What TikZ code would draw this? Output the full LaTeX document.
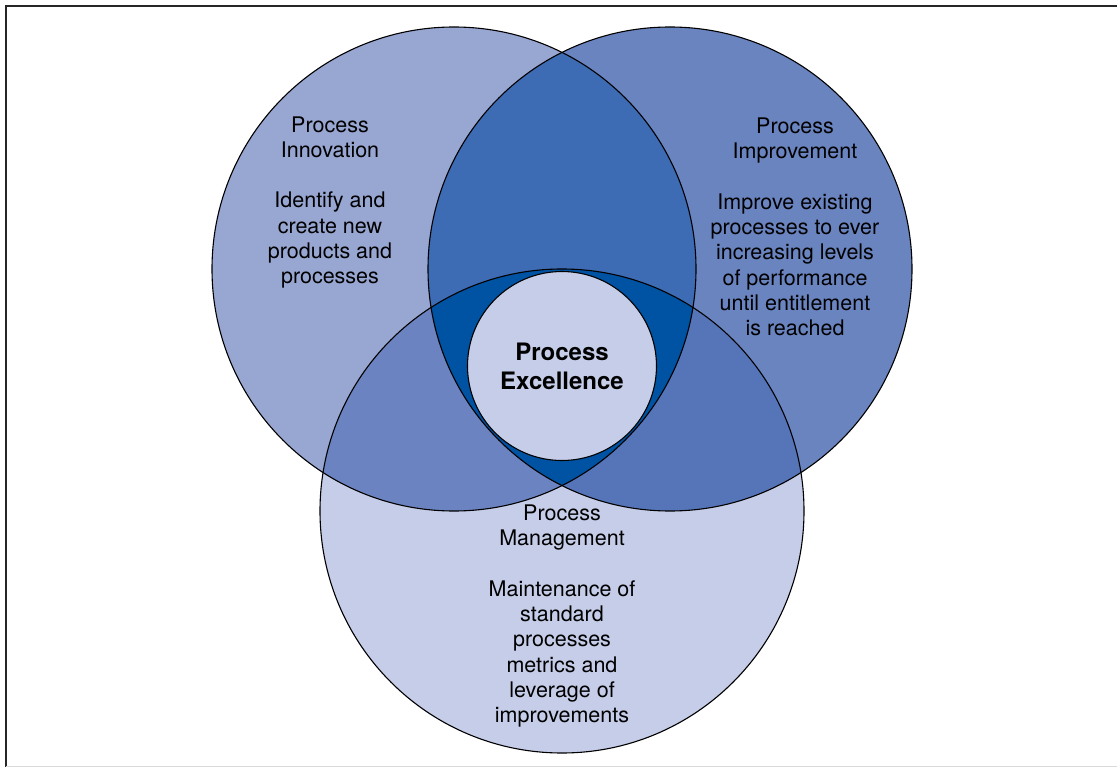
\documentclass[tikz,border=0pt]{standalone}
\usepackage{fontspec}
\setmainfont{TeX Gyre Heros}
\definecolor{innov}{HTML}{98A6D2}
\definecolor{improv}{HTML}{6A84C0}
\definecolor{manage}{HTML}{C5CDE8}
\definecolor{innovimprov}{HTML}{3D6BB4}
\definecolor{innovmanage}{HTML}{6B83C0}
\definecolor{improvmanage}{HTML}{5675B9}
\definecolor{allthree}{HTML}{0052A3}

\begin{document}
\begin{tikzpicture}[x=1pt,y=-1pt,
  ring/.style={draw=black,line width=1.1pt},
  venntext/.style={align=center,font=\fontsize{21.5}{25.3}\selectfont}]
\useasboundingbox (0,0) rectangle (1117,767);
\draw[line width=2.2pt,black!85] (6,767) -- (6,6) -- (1117,6);
\draw[line width=1pt,black!15] (6,766.5) -- (1117,766.5);

\coordinate (innovC) at (454,269);
\coordinate (improvC) at (670,269);
\coordinate (manageC) at (562,511);

\fill[innov] (innovC) circle (242pt);
\fill[improv] (improvC) circle (242pt);
\fill[manage] (manageC) circle (242pt);
\begin{scope}
  \clip (innovC) circle (242pt);
  \fill[innovimprov] (improvC) circle (242pt);
  \fill[innovmanage] (manageC) circle (242pt);
\end{scope}
\begin{scope}
  \clip (improvC) circle (242pt);
  \fill[improvmanage] (manageC) circle (242pt);
\end{scope}
\begin{scope}
  \clip (innovC) circle (242pt);
  \clip (improvC) circle (242pt);
  \fill[allthree] (manageC) circle (242pt);
\end{scope}
\draw[ring] (innovC) circle (242pt);
\draw[ring] (improvC) circle (242pt);
\draw[ring] (manageC) circle (242pt);

\node[circle,ring,fill=manage,minimum size=189pt,inner sep=0pt,align=center,
  font=\fontsize{24}{29}\selectfont\bfseries] (excel) at (562,366) {Process\\Excellence};

\node[venntext] (innovText) at (330,202.5) {Process\\Innovation\\[25.3pt]Identify and\\create new\\products and\\processes};
\node[venntext] (improvText) at (795,227) {Process\\Improvement\\[25.3pt]Improve existing\\processes to ever\\increasing levels\\of performance\\until entitlement\\is reached};
\node[venntext] (manageText) at (562,616) {Process\\Management\\[25.3pt]Maintenance of\\standard\\processes\\metrics and\\leverage of\\improvements};
\end{tikzpicture}
\end{document}
